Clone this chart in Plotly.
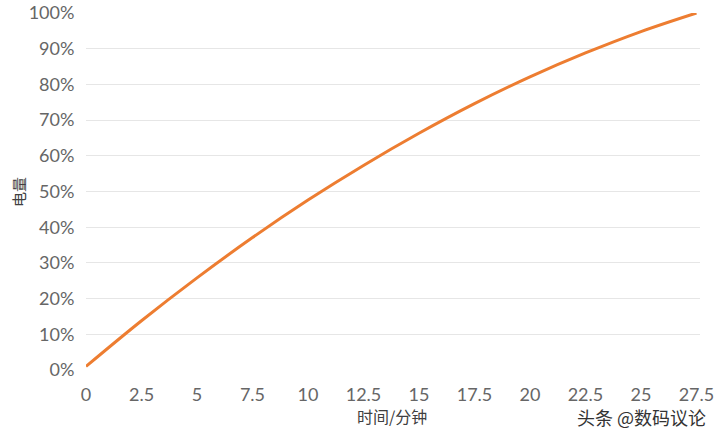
import plotly.graph_objects as go

# Data
time_min = [0, 2.5, 5, 7.5, 10, 12.5, 15, 17.5, 20, 22.5, 25, 27.5]
battery_pct = [1, 13.8, 25.8, 37.1, 47.6, 57.3, 66.3, 74.6, 82.1, 88.8, 94.8, 100]

x_ticks = [0, 2.5, 5, 7.5, 10, 12.5, 15, 17.5, 20, 22.5, 25, 27.5]
x_tick_text = ["0", "2.5", "5", "7.5", "10", "12.5", "15", "17.5", "20", "22.5", "25", "27.5"]
y_ticks = [0, 10, 20, 30, 40, 50, 60, 70, 80, 90, 100]
y_tick_text = [f"{v}%" for v in y_ticks]

FONT = "Lato, 'Noto Sans CJK SC', sans-serif"
CJK = "'Noto Sans CJK SC', sans-serif"

fig = go.Figure()
fig.add_trace(go.Scatter(
    x=time_min, y=battery_pct, mode="lines",
    line=dict(color="#ED7D31", width=3, shape="spline", smoothing=1.0),
    showlegend=False, hoverinfo="skip", cliponaxis=False,
))

L, R, T, B = 86, 20, 13, 66
PW, PH = 720 - L - R, 436 - T - B

fig.update_layout(
    width=720, height=436,
    margin=dict(l=L, r=R, t=T, b=B, autoexpand=False),
    paper_bgcolor="white", plot_bgcolor="white",
    font=dict(family=FONT, color="#595959", size=17),
    xaxis=dict(
        range=[0, 27.66], tickmode="array", tickvals=x_ticks, ticktext=x_tick_text,
        showgrid=False, zeroline=False, showline=False, ticks="outside",
        ticklen=8, tickcolor="rgba(0,0,0,0)", automargin=False,
        tickfont=dict(size=18, color="#666666", family=FONT),
    ),
    yaxis=dict(
        range=[0, 100], tickmode="array", tickvals=y_ticks, ticktext=y_tick_text,
        showgrid=True, gridcolor="#E6E6E6", gridwidth=1, zeroline=False,
        showline=False, ticks="outside", ticklen=7, tickcolor="rgba(0,0,0,0)",
        automargin=False,
        tickfont=dict(size=18, color="#666666", family=FONT),
    ),
)

# axis titles placed as annotations in pixel-matched positions
fig.add_annotation(
    text="时间/分钟", xref="paper", yref="paper",
    x=(392 - L) / PW, y=-(416 - (T + PH)) / PH,
    xanchor="center", yanchor="middle", showarrow=False,
    font=dict(size=16, color="#404040", family=CJK),
)
fig.add_annotation(
    text="电量", xref="paper", yref="paper",
    x=-(L - 18) / PW, y=(T + PH - 192) / PH, textangle=-90,
    xanchor="center", yanchor="middle", showarrow=False,
    font=dict(size=15, color="#404040", family=CJK),
)
fig.add_annotation(
    text="头条 @数码议论", xref="paper", yref="paper",
    x=(641 - L) / PW, y=-(417 - (T + PH)) / PH,
    xanchor="center", yanchor="middle", showarrow=False,
    font=dict(size=18, color="#333333", family=CJK),
)

fig.write_html(
    "out.html",
    config={"displayModeBar": False, "staticPlot": True},
    post_script="document.body.style.margin='0px';document.body.style.overflow='hidden';",
)
